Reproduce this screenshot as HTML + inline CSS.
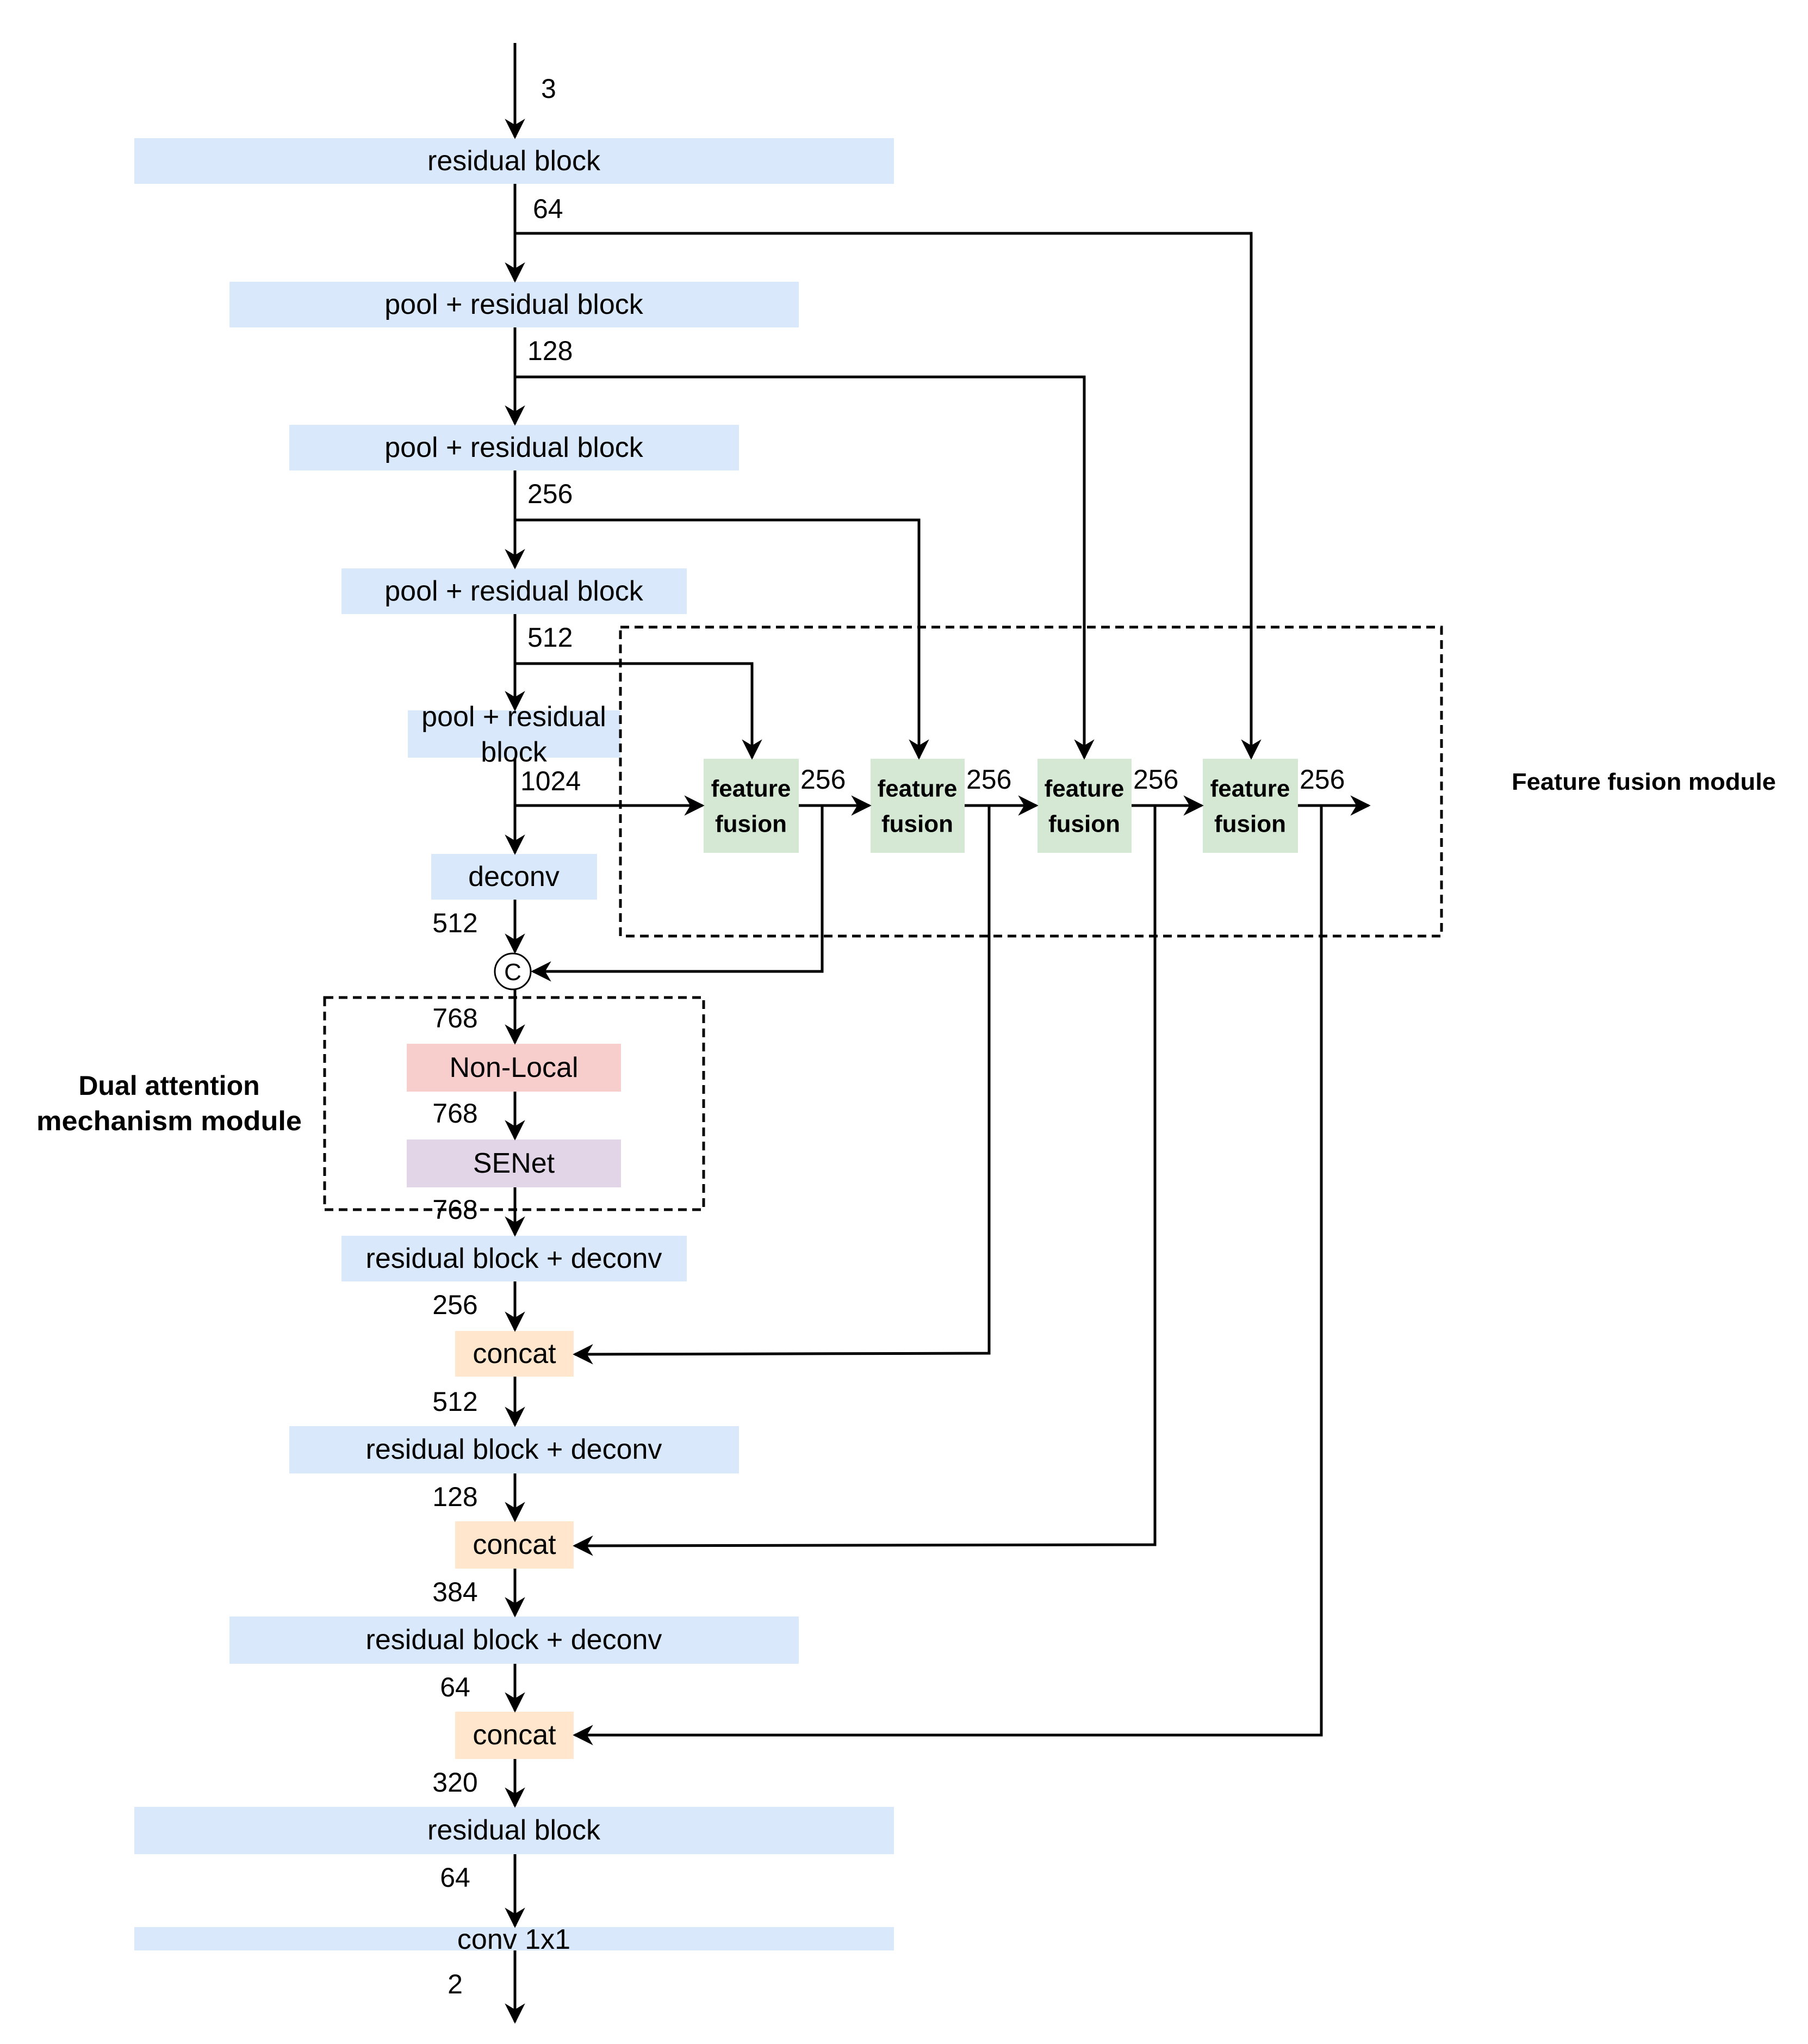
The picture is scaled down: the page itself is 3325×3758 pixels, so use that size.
<!DOCTYPE html>
<html><head><meta charset="utf-8"><style>
html,body{margin:0;padding:0;background:#fff}
svg{display:block}
text{font-family:"Liberation Sans",Arial,sans-serif;fill:#000}
</style></head><body>
<svg width="3325" height="3758" viewBox="0 0 3325 3758" xmlns="http://www.w3.org/2000/svg">
<defs>
<marker id="a" viewBox="0 0 10 10" refX="9" refY="5" markerWidth="7.5" markerHeight="7.5" markerUnits="strokeWidth" orient="auto">
<path d="M0,0 L10,5 L0,10 L3,5 z" fill="#000"/>
</marker>
</defs>
<g fill="#dae8fc">
<rect x="247" y="254" width="1397" height="84"/>
<rect x="422" y="518" width="1047" height="84"/>
<rect x="532" y="781" width="827" height="84"/>
<rect x="628" y="1045" width="635" height="84"/>
<rect x="750" y="1306" width="391" height="87"/>
<rect x="793" y="1570" width="305" height="84"/>
<rect x="628" y="2272" width="635" height="84"/>
<rect x="532" y="2622" width="827" height="87"/>
<rect x="422" y="2972" width="1047" height="87"/>
<rect x="247" y="3322" width="1397" height="87"/>
<rect x="247" y="3543" width="1397" height="43"/>
</g>
<g fill="#d5e8d4">
<rect x="1294" y="1395" width="175" height="173"/>
<rect x="1601" y="1395" width="173" height="173"/>
<rect x="1908" y="1395" width="173" height="173"/>
<rect x="2212" y="1395" width="175" height="173"/>
</g>
<rect x="748" y="1919" width="394" height="88" fill="#f8cecc"/>
<rect x="748" y="2095" width="394" height="88" fill="#e1d5e7"/>
<g fill="#ffe6cc">
<rect x="837" y="2447" width="218" height="84"/>
<rect x="837" y="2797" width="218" height="87"/>
<rect x="837" y="3147" width="218" height="87"/>
</g>
<g fill="none" stroke="#000" stroke-width="5" stroke-dasharray="16,10">
<rect x="1141" y="1153" width="1510" height="568"/>
<rect x="597" y="1834" width="697" height="390"/>
</g>
<g fill="none" stroke="#000" stroke-width="5">
<line x1="947" y1="79" x2="947" y2="252" marker-end="url(#a)"/>
<line x1="947" y1="338" x2="947" y2="516" marker-end="url(#a)"/>
<polyline points="947,429 2301,429 2301,1393" marker-end="url(#a)"/>
<line x1="947" y1="602" x2="947" y2="779" marker-end="url(#a)"/>
<polyline points="947,693 1994,693 1994,1393" marker-end="url(#a)"/>
<line x1="947" y1="865" x2="947" y2="1043" marker-end="url(#a)"/>
<polyline points="947,956 1690,956 1690,1393" marker-end="url(#a)"/>
<line x1="947" y1="1129" x2="947" y2="1304" marker-end="url(#a)"/>
<polyline points="947,1220 1383,1220 1383,1393" marker-end="url(#a)"/>
<line x1="947" y1="1393" x2="947" y2="1568" marker-end="url(#a)"/>
<line x1="947" y1="1481" x2="1292" y2="1481" marker-end="url(#a)"/>
<line x1="1469" y1="1481" x2="1599" y2="1481" marker-end="url(#a)"/>
<line x1="1774" y1="1481" x2="1906" y2="1481" marker-end="url(#a)"/>
<line x1="2081" y1="1481" x2="2210" y2="1481" marker-end="url(#a)"/>
<line x1="2387" y1="1481" x2="2517" y2="1481" marker-end="url(#a)"/>
<line x1="947" y1="1654" x2="947" y2="1750" marker-end="url(#a)"/>
<polyline points="1512,1481 1512,1786 980,1786" marker-end="url(#a)"/>
<circle cx="943" cy="1786" r="33" stroke-width="3"/>
<line x1="947" y1="1819" x2="947" y2="1917" marker-end="url(#a)"/>
<line x1="947" y1="2007" x2="947" y2="2093" marker-end="url(#a)"/>
<line x1="947" y1="2183" x2="947" y2="2270" marker-end="url(#a)"/>
<line x1="947" y1="2356" x2="947" y2="2445" marker-end="url(#a)"/>
<polyline points="1819,1481 1819,2488 1057,2490" marker-end="url(#a)"/>
<line x1="947" y1="2531" x2="947" y2="2620" marker-end="url(#a)"/>
<line x1="947" y1="2709" x2="947" y2="2795" marker-end="url(#a)"/>
<polyline points="2124,1481 2124,2840 1057,2842" marker-end="url(#a)"/>
<line x1="947" y1="2884" x2="947" y2="2970" marker-end="url(#a)"/>
<line x1="947" y1="3059" x2="947" y2="3145" marker-end="url(#a)"/>
<polyline points="2430,1481 2430,3190 1057,3190" marker-end="url(#a)"/>
<line x1="947" y1="3234" x2="947" y2="3320" marker-end="url(#a)"/>
<line x1="947" y1="3409" x2="947" y2="3541" marker-end="url(#a)"/>
<line x1="947" y1="3586" x2="947" y2="3717" marker-end="url(#a)"/>
</g>
<text x="943" y="1802" font-size="44" text-anchor="middle">C</text>
<g font-size="52" text-anchor="middle" dominant-baseline="central">
<text x="945" y="296">residual block</text>
<text x="945" y="560">pool + residual block</text>
<text x="945" y="823">pool + residual block</text>
<text x="945" y="1087">pool + residual block</text>
<text x="945" y="1318">pool + residual</text>
<text x="945" y="1383">block</text>
<text x="945" y="1612">deconv</text>
<text x="945" y="1963">Non-Local</text>
<text x="945" y="2139">SENet</text>
<text x="945" y="2314">residual block + deconv</text>
<text x="946" y="2489">concat</text>
<text x="945" y="2665">residual block + deconv</text>
<text x="946" y="2840">concat</text>
<text x="945" y="3015">residual block + deconv</text>
<text x="946" y="3190">concat</text>
<text x="945" y="3365">residual block</text>
<text x="945" y="3566">conv 1x1</text>
</g>
<g font-size="50" dominant-baseline="central">
<text x="995" y="163">3</text>
<text x="980" y="384">64</text>
<text x="970" y="645">128</text>
<text x="970" y="908">256</text>
<text x="970" y="1172">512</text>
<text x="957" y="1436">1024</text>
<text x="1472" y="1433">256</text>
<text x="1777" y="1433">256</text>
<text x="2084" y="1433">256</text>
<text x="2390" y="1433">256</text>
</g>
<g font-size="50" text-anchor="middle" dominant-baseline="central">
<text x="837" y="1697">512</text>
<text x="837" y="1872">768</text>
<text x="837" y="2047">768</text>
<text x="837" y="2224">768</text>
<text x="837" y="2399">256</text>
<text x="837" y="2577">512</text>
<text x="837" y="2752">128</text>
<text x="837" y="2927">384</text>
<text x="837" y="3102">64</text>
<text x="837" y="3277">320</text>
<text x="837" y="3452">64</text>
<text x="837" y="3648">2</text>
</g>
<g font-size="44" font-weight="bold" text-anchor="middle" dominant-baseline="central">
<text x="1381" y="1450">feature</text><text x="1381" y="1515">fusion</text>
<text x="1687" y="1450">feature</text><text x="1687" y="1515">fusion</text>
<text x="1994" y="1450">feature</text><text x="1994" y="1515">fusion</text>
<text x="2299" y="1450">feature</text><text x="2299" y="1515">fusion</text>
</g>
<text x="2780" y="1452" font-size="44" font-weight="bold" textLength="486" lengthAdjust="spacingAndGlyphs">Feature fusion module</text>
<g font-size="50" font-weight="bold" text-anchor="middle">
<text x="311" y="2013">Dual attention</text>
<text x="311" y="2078" textLength="488" lengthAdjust="spacingAndGlyphs">mechanism module</text>
</g>
</svg>
</body></html>
